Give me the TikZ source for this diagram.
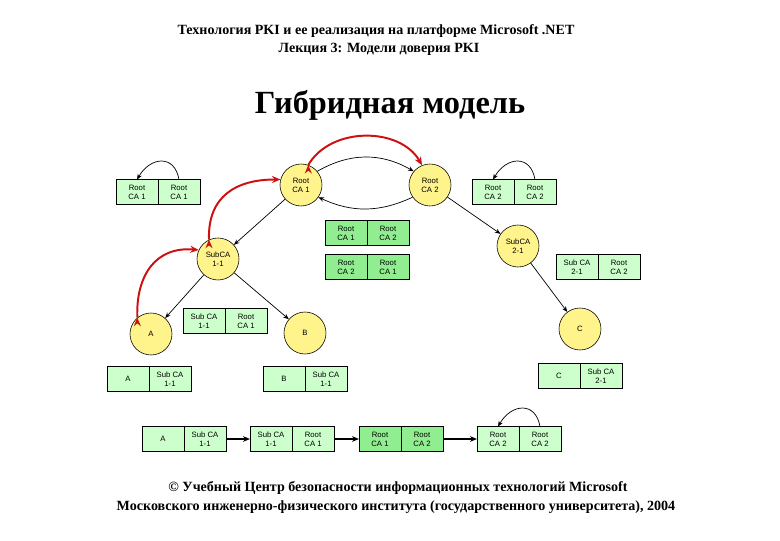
\documentclass[tikz,border=0pt]{standalone}
\usepackage{fontspec}
\setmainfont{Liberation Serif}
\setsansfont{Liberation Sans}
\usetikzlibrary{positioning,arrows.meta}
\definecolor{cafill}{RGB}{255,243,140}
\definecolor{certlight}{RGB}{204,255,204}
\definecolor{certmid}{RGB}{144,238,144}
\definecolor{trustred}{RGB}{204,17,17}
\tikzstyle{ca}=[draw, circle, fill=cafill, minimum size=1.05cm, inner sep=0pt, align=center, font=\sffamily\fontsize{5.5}{6.3}\selectfont]
\tikzstyle{cell}=[draw, fill=certlight, minimum width=1.05cm, minimum height=0.62cm, inner sep=0pt, outer sep=0pt, align=center, font=\sffamily\fontsize{5.5}{6.3}\selectfont]
\tikzstyle{midcell}=[cell, fill=certmid]
\tikzstyle{link}=[-{Stealth[length=4pt,width=3.2pt]}, line width=0.5pt]
\tikzstyle{chainlink}=[-{Stealth[length=5pt,width=4pt]}, line width=0.8pt]
\tikzstyle{trust}=[-{Stealth[length=6pt,width=5pt]}, line width=1.4pt, draw=trustred]
\tikzstyle{head}=[font=\bfseries\fontsize{10}{12}\selectfont]

\begin{document}
\begin{tikzpicture}[x=0.025cm, y=0.025cm]
	\useasboundingbox (0,0) rectangle (780,540);
	\node[head] (head1) at (376,509) {Технология PKI и ее реализация на платформе Microsoft .NET};
	\node[head] (head2) at (379,491) {Лекция 3: Модели доверия PKI};
	\node[font=\bfseries\fontsize{23}{26}\selectfont] (title) at (390,435) {Гибридная модель};

	\node[ca] (rootA) at (301,355) {Root\\CA 1};
	\node[ca] (rootB) at (430,355) {Root\\CA 2};
	\node[ca] (subA) at (218,281) {SubCA\\1-1};
	\node[ca] (subB) at (518,294) {SubCA\\2-1};
	\node[ca] (userA) at (151,206) {A};
	\node[ca] (userB) at (305,207) {B};
	\node[ca] (userC) at (580,211) {C};

	\node[cell] (selfAL) at (137,348) {Root\\CA 1};
	\node[cell, right=0pt of selfAL] (selfAR) {Root\\CA 1};
	\node[cell] (selfBL) at (493,348) {Root\\CA 2};
	\node[cell, right=0pt of selfBL] (selfBR) {Root\\CA 2};
	\node[midcell] (crossABL) at (346,307) {Root\\CA 1};
	\node[midcell, right=0pt of crossABL] (crossABR) {Root\\CA 2};
	\node[midcell] (crossBAL) at (346,273) {Root\\CA 2};
	\node[midcell, right=0pt of crossBAL] (crossBAR) {Root\\CA 1};
	\node[cell] (certSubBL) at (577,273) {Sub CA\\2-1};
	\node[cell, right=0pt of certSubBL] (certSubBR) {Root\\CA 2};
	\node[cell] (certSubAL) at (204,219) {Sub CA\\1-1};
	\node[cell, right=0pt of certSubAL] (certSubAR) {Root\\CA 1};
	\node[cell] (certUAL) at (128,161) {A};
	\node[cell, right=0pt of certUAL] (certUAR) {Sub CA\\1-1};
	\node[cell] (certUBL) at (284,161) {B};
	\node[cell, right=0pt of certUBL] (certUBR) {Sub CA\\1-1};
	\node[cell] (certUCL) at (559,164) {C};
	\node[cell, right=0pt of certUCL] (certUCR) {Sub CA\\2-1};

	\node[cell] (chainAL) at (163,101) {A};
	\node[cell, right=0pt of chainAL] (chainAR) {Sub CA\\1-1};
	\node[cell] (chainBL) at (271,101) {Sub CA\\1-1};
	\node[cell, right=0pt of chainBL] (chainBR) {Root\\CA 1};
	\node[midcell] (chainCL) at (380,101) {Root\\CA 1};
	\node[midcell, right=0pt of chainCL] (chainCR) {Root\\CA 2};
	\node[cell] (chainDL) at (498,101) {Root\\CA 2};
	\node[cell, right=0pt of chainDL] (chainDR) {Root\\CA 2};

	\path[link] (rootA) edge (subA);
	\path[link] (subA) edge (userA);
	\path[link] (subA) edge (userB);
	\path[link] (rootB) edge (subB);
	\path[link] (subB) edge (userC);
	\path[link] (rootA.40) edge[bend left=30] (rootB.140);
	\path[link] (rootB.215) edge[bend left=25] (rootA.325);
	\path[link] (selfAR.north) edge[out=100, in=60, looseness=1.6] (selfAL.north);
	\path[link] (selfBR.north) edge[out=100, in=60, looseness=1.6] (selfBL.north);
	\path[link] (chainDR.north) edge[out=100, in=60, looseness=1.6] (chainDL.north);

	\path[chainlink] (chainAR) edge (chainBL);
	\path[chainlink] (chainBR) edge (chainCL);
	\path[chainlink] (chainCR) edge (chainDL);

	\path[trust] (userA.130) edge[out=92, in=175, looseness=1.2] (subA.155);
	\path[trust] (subA.115) edge[out=92, in=180, looseness=1.2] (rootA.165);
	\path[trust] (rootA.70) edge[bend left=60] (rootB.112);

	\node[head] (foot1) at (398,52) {© Учебный Центр безопасности информационных технологий Microsoft};
	\node[head] (foot2) at (396,33) {Московского инженерно-физического института (государственного университета), 2004};
\end{tikzpicture}
\end{document}
